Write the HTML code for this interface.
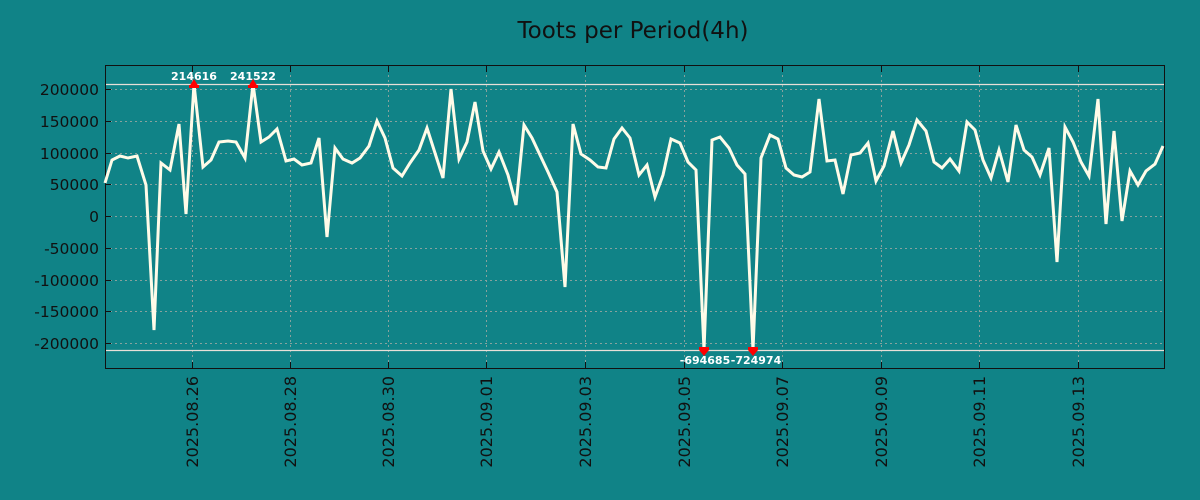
<!DOCTYPE html>
<html><head><meta charset="utf-8"><style>
html,body{margin:0;padding:0;background:#108387;}
svg{display:block}
text{font-family:"DejaVu Sans","Liberation Sans",sans-serif;}
</style></head><body>
<svg width="1200" height="500" viewBox="0 0 1200 500" xmlns="http://www.w3.org/2000/svg">
<rect width="1200" height="500" fill="#108387"/>
<text x="633" y="38" font-size="23" text-anchor="middle" fill="#111">Toots per Period(4h)</text>
<g stroke="#b8b0a8" stroke-width="1" stroke-dasharray="2,3" opacity="0.7">
<line x1="105" x2="1165" y1="89.5" y2="89.5"/><line x1="105" x2="1165" y1="121.5" y2="121.5"/>
<line x1="105" x2="1165" y1="153.5" y2="153.5"/><line x1="105" x2="1165" y1="184.5" y2="184.5"/>
<line x1="105" x2="1165" y1="216.5" y2="216.5"/><line x1="105" x2="1165" y1="248.5" y2="248.5"/>
<line x1="105" x2="1165" y1="280.5" y2="280.5"/><line x1="105" x2="1165" y1="311.5" y2="311.5"/>
<line x1="105" x2="1165" y1="343.5" y2="343.5"/>
<line x1="192.5" x2="192.5" y1="65" y2="369"/><line x1="290.5" x2="290.5" y1="65" y2="369"/>
<line x1="388.5" x2="388.5" y1="65" y2="369"/><line x1="486.5" x2="486.5" y1="65" y2="369"/>
<line x1="585.5" x2="585.5" y1="65" y2="369"/><line x1="684.5" x2="684.5" y1="65" y2="369"/>
<line x1="782.5" x2="782.5" y1="65" y2="369"/><line x1="881.5" x2="881.5" y1="65" y2="369"/>
<line x1="979.5" x2="979.5" y1="65" y2="369"/><line x1="1078.5" x2="1078.5" y1="65" y2="369"/>
</g>
<line x1="105" x2="1165" y1="84.5" y2="84.5" stroke="#e8e0d8" stroke-width="1.2"/>
<line x1="105" x2="1165" y1="350.5" y2="350.5" stroke="#e8e0d8" stroke-width="1.2"/>
<rect x="105.5" y="65.5" width="1059" height="303" fill="none" stroke="#111" stroke-width="1"/>
<g stroke="#111" stroke-width="1">
<line x1="192.5" x2="192.5" y1="65" y2="72"/><line x1="290.5" x2="290.5" y1="65" y2="72"/><line x1="388.5" x2="388.5" y1="65" y2="72"/><line x1="486.5" x2="486.5" y1="65" y2="72"/><line x1="585.5" x2="585.5" y1="65" y2="72"/><line x1="684.5" x2="684.5" y1="65" y2="72"/><line x1="782.5" x2="782.5" y1="65" y2="72"/><line x1="881.5" x2="881.5" y1="65" y2="72"/><line x1="979.5" x2="979.5" y1="65" y2="72"/><line x1="1078.5" x2="1078.5" y1="65" y2="72"/>
<line x1="192.5" x2="192.5" y1="362" y2="369"/><line x1="290.5" x2="290.5" y1="362" y2="369"/><line x1="388.5" x2="388.5" y1="362" y2="369"/><line x1="486.5" x2="486.5" y1="362" y2="369"/><line x1="585.5" x2="585.5" y1="362" y2="369"/><line x1="684.5" x2="684.5" y1="362" y2="369"/><line x1="782.5" x2="782.5" y1="362" y2="369"/><line x1="881.5" x2="881.5" y1="362" y2="369"/><line x1="979.5" x2="979.5" y1="362" y2="369"/><line x1="1078.5" x2="1078.5" y1="362" y2="369"/>
<line x1="105" x2="111" y1="89.5" y2="89.5"/><line x1="105" x2="111" y1="121.5" y2="121.5"/><line x1="105" x2="111" y1="153.5" y2="153.5"/><line x1="105" x2="111" y1="184.5" y2="184.5"/><line x1="105" x2="111" y1="216.5" y2="216.5"/><line x1="105" x2="111" y1="248.5" y2="248.5"/><line x1="105" x2="111" y1="280.5" y2="280.5"/><line x1="105" x2="111" y1="311.5" y2="311.5"/><line x1="105" x2="111" y1="343.5" y2="343.5"/>
</g>
<g font-size="15.5" fill="#111" text-anchor="end">
<text x="99" y="95">200000</text><text x="99" y="127">150000</text><text x="99" y="159">100000</text>
<text x="99" y="190">50000</text><text x="99" y="222">0</text><text x="99" y="254">-50000</text>
<text x="99" y="286">-100000</text><text x="99" y="317">-150000</text><text x="99" y="349">-200000</text>
</g>
<g font-size="16" fill="#111" text-anchor="end">
<text transform="translate(198,376) rotate(-90)">2025.08.26</text>
<text transform="translate(296,376) rotate(-90)">2025.08.28</text>
<text transform="translate(394,376) rotate(-90)">2025.08.30</text>
<text transform="translate(492,376) rotate(-90)">2025.09.01</text>
<text transform="translate(591,376) rotate(-90)">2025.09.03</text>
<text transform="translate(690,376) rotate(-90)">2025.09.05</text>
<text transform="translate(788,376) rotate(-90)">2025.09.07</text>
<text transform="translate(887,376) rotate(-90)">2025.09.09</text>
<text transform="translate(985,376) rotate(-90)">2025.09.11</text>
<text transform="translate(1084,376) rotate(-90)">2025.09.13</text>
</g>
<polyline fill="none" stroke="#fffbe8" stroke-width="3" stroke-linejoin="miter" points="105,183 112,160 120,156 128,158 137,156 146,185 154,330 161,163 170,170 179,124 186,214 194,84 203,167 211,160 219,142 228,141 236,142 245,158 253,84 261,142 269,137 277,129 286,161 294,159 302,165 311,163 319,138 327,237 335,148 343,159 352,163 360,158 369,146 377,121 385,138 393,168 402,176 410,163 419,150 427,128 435,153 443,178 451,89 459,159 467,142 475,102 483,151 491,169 499,152 508,175 516,205 524,125 532,138 540,155 548,172 557,192 565,287 573,124 581,154 590,160 598,167 606,168 614,139 622,128 630,138 639,175 647,165 655,197 663,175 671,139 680,143 688,162 696,170 704,350 712,140 720,137 729,148 737,165 745,174 753,350 761,158 770,135 778,139 786,168 794,175 802,177 810,172 819,99 827,161 835,160 843,194 851,155 860,153 868,143 876,181 884,166 893,131 901,163 909,145 917,120 926,131 934,162 942,168 950,159 959,171 967,122 975,130 983,160 991,178 999,150 1008,182 1016,125 1024,150 1032,157 1040,175 1049,148 1057,262 1065,127 1073,142 1081,162 1089,176 1098,99 1106,224 1114,131 1122,221 1130,171 1138,185 1146,171 1155,164 1163,146"/>
<g fill="#f00">
<polygon points="189,87 199,87 194,79"/><rect x="189" y="85" width="10" height="3"/>
<polygon points="248,87 258,87 253,79"/><rect x="248" y="85" width="10" height="3"/>
<polygon points="699,350 709,350 704,356"/><rect x="699" y="347" width="10" height="3"/>
<polygon points="748,350 758,350 753,356"/><rect x="748" y="347" width="10" height="3"/>
</g>
<g font-size="11" font-weight="bold" fill="#fff" text-anchor="middle">
<text x="194" y="80">214616</text><text x="253" y="80">241522</text>
<text x="705" y="364">-694685</text><text x="756" y="364">-724974</text>
</g>
</svg>
</body></html>
